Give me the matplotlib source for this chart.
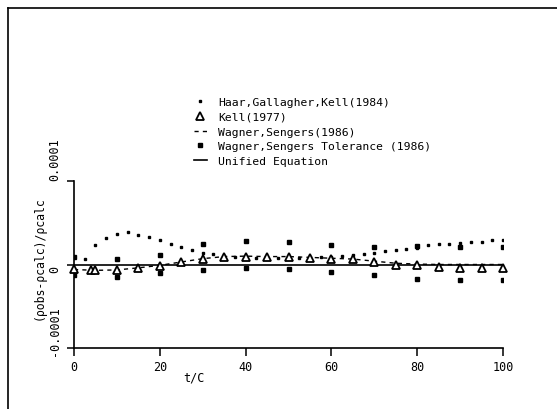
import numpy as np
import matplotlib
matplotlib.use("Agg")
import matplotlib.pyplot as plt
from matplotlib.lines import Line2D

plt.rcParams['font.family'] = ['DejaVu Sans Mono', 'DejaVu Sans']

# values, in units of 1e-6
haar_t = [2.5, 5, 7.5, 10, 12.5, 15, 17.5, 20, 22.5, 25, 27.5, 30, 32.5, 35, 37.5,
          40, 42.5, 45, 47.5, 50, 52.5, 55, 57.5, 60, 62.5, 65, 67.5, 70, 72.5, 75,
          77.5, 80, 82.5, 85, 87.5, 90, 92.5, 95, 97.5, 100]
haar_v = [7, 23, 32, 37, 38.5, 35, 32.5, 29, 25, 20.5, 17, 14, 12, 10, 9,
          8.5, 8, 8, 8, 8, 8, 8.5, 9, 9.5, 10, 11, 12, 14, 16.5, 17,
          19, 20, 23, 24, 25, 26, 27.5, 27.5, 29, 29]

kell_t = [0, 4, 5, 10, 15, 20, 25, 30, 35, 40, 45, 50, 55, 60, 65, 70, 75, 80, 85, 90, 95, 100]
kell_v = [-5, -7, -7, -7, -4, -2, 3.5, 6.6, 8.4, 9, 8.4, 8.4, 7.6, 6.2, 6, 3, 0, -1, -3, -4.5, -4.5, -4.5]

ws_t = [0, 5, 10, 15, 20, 25, 30, 35, 40, 45, 50, 55, 60, 65, 70, 75, 80, 85, 90, 95, 100]
ws_v = [-6, -7, -6.5, -4, -1, 3, 7, 9.5, 10, 9.5, 9.5, 8.5, 7.5, 6.5, 4, 1.5, 0.5, 0, 0, 0, 0]

tol_t = [0, 10, 20, 30, 40, 50, 60, 70, 80, 90, 100]
tol_upper = [8.4, 6, 11, 24, 27.7, 26.5, 23, 20.5, 21.7, 20.5, 20.5]
tol_lower = [-13, -14.5, -9.6, -7, -3.6, -4.8, -8.4, -12, -17, -18, -18]

unified_t = [0, 100]
unified_v = [0, 0]

y_ticks = [-1e-4, 0, 1e-4]
y_tick_labels = ['-0.0001', '0', '0.0001']
x_ticks = [0, 20, 40, 60, 80, 100]

W, H = 557, 410
def fx(px):
    return px / W
def fy(py):
    return 1 - py / H

fig = plt.figure(figsize=(W / 100, H / 100), dpi=100)
ax = fig.add_axes([fx(74), fy(349), fx(503) - fx(74), fy(182) - fy(349)])

s = 1e-6
ax.plot(unified_t, np.array(unified_v) * s, color='k', lw=1.2, zorder=2)
ax.plot(ws_t, np.array(ws_v) * s, color='k', lw=1.0, ls=(0, (3, 3)), zorder=2)
ax.plot(haar_t, np.array(haar_v) * s, ls='none', marker='s', ms=1.5, color='k', zorder=3)
ax.plot(tol_t, np.array(tol_upper) * s, ls='none', marker='s', ms=2.2, color='k', zorder=3)
ax.plot(tol_t, np.array(tol_lower) * s, ls='none', marker='s', ms=2.2, color='k', zorder=3)
ax.plot(kell_t, np.array(kell_v) * s, ls='none', marker='^', ms=6.3, mfc='white',
        mec='k', mew=1.3, zorder=4, clip_on=False)

ax.set_xlim(0, 100)
ax.set_ylim(-1e-4, 1e-4)
ax.set_xticks(x_ticks)
ax.set_yticks(y_ticks)
ax.set_yticklabels([])
ax.tick_params(axis='x', direction='out', length=6, width=1.1, labelsize=8.5, pad=2.5)
ax.tick_params(axis='y', direction='out', length=5, width=1.1)
for sp in ['top', 'right']:
    ax.spines[sp].set_visible(False)
for sp in ['left', 'bottom']:
    ax.spines[sp].set_linewidth(1.2)

# rotated y tick labels, placed as on the plotter output
label_shift = [18, -4, 22]
for v, txt, dy in zip(y_ticks, y_tick_labels, label_shift):
    ax.annotate(txt, xy=(0, v), xycoords=('axes fraction', 'data'),
                xytext=(-19, dy), textcoords='offset pixels',
                rotation=90, ha='center', va='center', fontsize=8.5)

fig.text(fx(39), fy(258), '(ρobs-ρcalc)/ρcalc', rotation=90, ha='center', va='center', fontsize=8.3)
fig.text(fx(194), fy(378), 't/C', ha='center', va='center', fontsize=8.5)

handles = [
    Line2D([], [], ls='none', marker='s', ms=1.5, color='k'),
    Line2D([], [], ls='none', marker='^', ms=6.0, mfc='white', mec='k', mew=1.3),
    Line2D([], [], color='k', lw=1.0, ls=(0, (3, 3))),
    Line2D([], [], ls='none', marker='s', ms=2.2, color='k'),
    Line2D([], [], color='k', lw=1.2),
]
labels = ['Haar,Gallagher,Kell(1984)', 'Kell(1977)', 'Wagner,Sengers(1986)',
          'Wagner,Sengers Tolerance (1986)', 'Unified Equation']
ax.legend(handles, labels, loc='upper left', bbox_to_anchor=(fx(194), fy(98)),
          bbox_transform=fig.transFigure, frameon=False, borderpad=0, borderaxespad=0,
          handlelength=1.1, handletextpad=1.0, labelspacing=0.42, fontsize=8.2)

# page frame from the scan
fig.add_artist(Line2D([fx(8), 1], [fy(9), fy(9)], color='k', lw=1.2))
fig.add_artist(Line2D([fx(8), fx(8)], [fy(9), 0], color='k', lw=1.2))

fig.savefig('out.png', dpi=100)
